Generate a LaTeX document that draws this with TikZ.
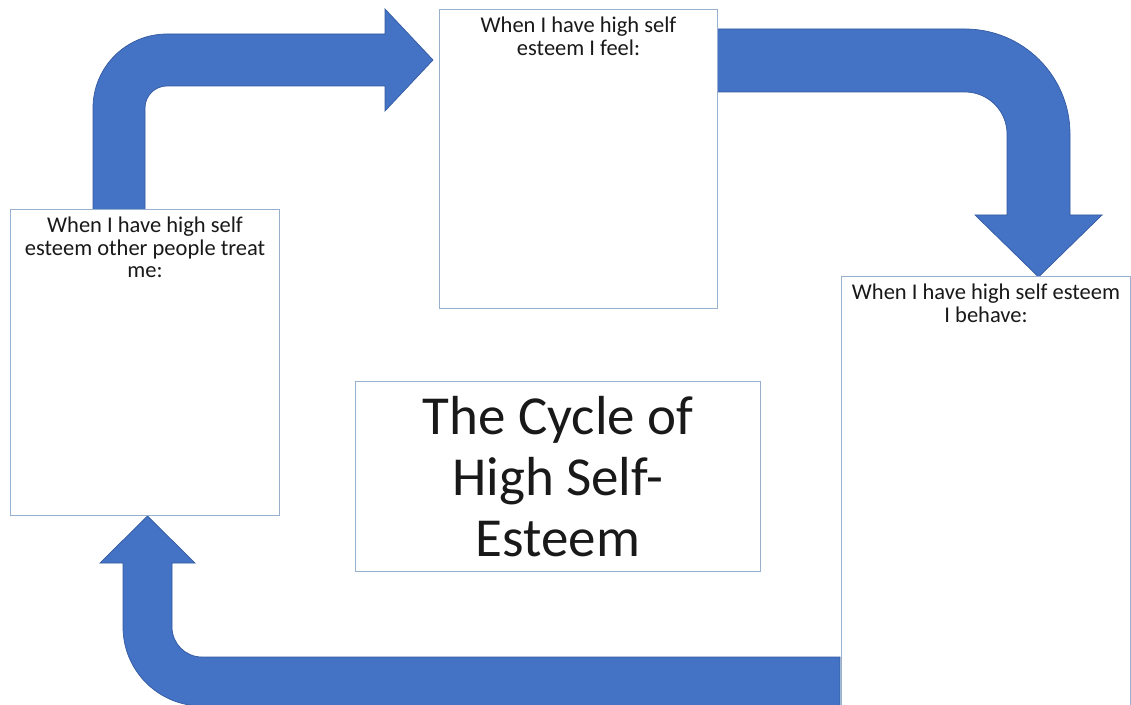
\documentclass[tikz,border=0pt]{standalone}
\usepackage{fontspec}
\setmainfont{Carlito}
\definecolor{arrowblue}{RGB}{68,114,196}
\definecolor{arrowedge}{RGB}{52,90,160}
\definecolor{boxedge}{RGB}{150,176,205}
\definecolor{txt}{RGB}{25,25,25}
\tikzset{
  bigarrow/.style={fill=arrowblue, draw=arrowedge, line width=0.7pt, line join=miter},
  framebox/.style={draw=boxedge, fill=white, line width=1pt, rectangle, inner sep=0pt, anchor=south west},
  boxtext/.style={anchor=north, inner sep=0pt, align=center, text=txt, font=\fontsize{22.5}{22.5}\selectfont},
  titletext/.style={inner sep=0pt, align=center, text=txt, font=\fontsize{55}{61}\selectfont}
}
\begin{document}
\begin{tikzpicture}[x=1pt,y=1pt]
\useasboundingbox (0,0) rectangle (1131,704);
\fill[white] (0,0) rectangle (1131,704);
% arrow: others treat me -> I feel
\path[bigarrow] (93,492) -- (93,596) arc[start angle=180, end angle=90, radius=74]
  -- (385,670) -- (385,695) -- (433,644) -- (385,593) -- (385,618) -- (167,618)
  arc[start angle=90, end angle=180, radius=22] -- (145,492) -- cycle;
% arrow: I feel -> I behave
\path[bigarrow] (714,675) -- (965,675) arc[start angle=90, end angle=0, radius=105]
  -- (1070,489) -- (1102,489) -- (1038.5,427) -- (975,489) -- (1007,489) -- (1007,570)
  arc[start angle=0, end angle=90, radius=42] -- (714,612) -- cycle;
% arrow: I behave -> others treat me
\path[bigarrow] (840,47) -- (202,47) arc[start angle=270, end angle=180, radius=30]
  -- (172,141) -- (195,141) -- (147.5,188) -- (100,141) -- (123,141) -- (123,77)
  arc[start angle=180, end angle=270, radius=79] -- (840,-2) -- cycle;
% boxes
\node[framebox, minimum width=269pt, minimum height=306pt] (treat) at (10,188) {};
\node[framebox, minimum width=278pt, minimum height=299pt] (feel) at (439,395) {};
\node[framebox, minimum width=289pt, minimum height=435pt] (behave) at (841,-8) {};
\node[framebox, minimum width=405pt, minimum height=190pt] (title) at (355,132) {};
% texts
\node[boxtext] (treattext) at ([yshift=-8pt]treat.north) {When I have high self\\esteem other people treat\\me:};
\node[boxtext] (feeltext) at ([yshift=-8pt]feel.north) {When I have high self\\esteem I feel:};
\node[boxtext] (behavetext) at ([yshift=-8pt]behave.north) {When I have high self esteem\\I behave:};
\node[titletext] (titletext) at (title.center) {The Cycle of\\High Self-\\Esteem};
\end{tikzpicture}
\end{document}
